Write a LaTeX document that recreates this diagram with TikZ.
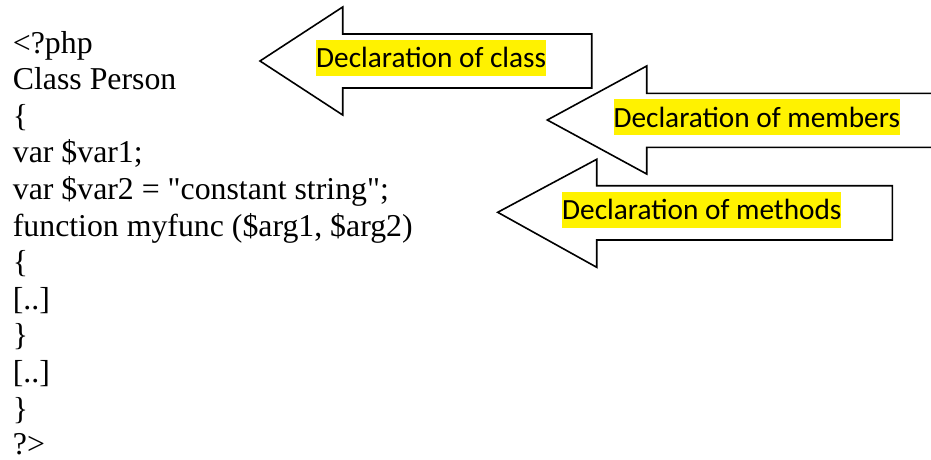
\documentclass[tikz,border=0pt]{standalone}
\usepackage{fontspec}
\setmainfont{Liberation Serif}[Ligatures=TeXOff]
\newfontfamily\calib{Carlito}
\begin{document}
\begin{tikzpicture}[x=1pt,y=-1pt,
 code/.style={anchor=base west,inner sep=0pt,font=\fontsize{31.8}{36}\selectfont},
 hl/.style={anchor=base west,inner sep=0pt,fill=yellow,text height=27.9pt,text depth=7.9pt,font=\calib\fontsize{29.3}{35}\selectfont},
 arr/.style={draw=black,fill=white,line width=1.6pt,line join=miter}]
\useasboundingbox (0,0) rectangle (931,460);
\clip (0,0) rectangle (931,460);
% arrows
\draw[arr] (260,61) -- (342.7,7) -- (342.7,34) -- (591.7,34) -- (591.7,88) -- (342.7,88) -- (342.7,115) -- cycle;
\draw[arr] (547.3,120) -- (646.7,66) -- (646.7,93.3) -- (945,93.3) -- (945,147.3) -- (646.7,147.3) -- (646.7,174) -- cycle;
\draw[arr] (497.7,212.3) -- (596.7,159.3) -- (596.7,185.7) -- (892.3,185.7) -- (892.3,240) -- (596.7,240) -- (596.7,267.3) -- cycle;
% labels
\node[hl] (lclass) at (316,67.9) {Declaration of class};
\node[hl] (lmembers) at (613.3,127.2) {Declaration of members};
\node[hl] (lmethods) at (562,219.6) {Declaration of methods};
% code
\node[code] (c1) at (12.7,53) {<?php};
\node[code] (c2) at (12.7,89.6) {Class Person};
\node[code] (c3) at (12.7,126.2) {\{};
\node[code] (c4) at (12.7,162.8) {var \$var1;};
\node[code] (c5) at (12.7,199.4) {var \$var2 = "constant string";};
\node[code] (c6) at (12.7,236) {function myfunc (\$arg1, \$arg2)};
\node[code] (c7) at (12.7,272.6) {\{};
\node[code] (c8) at (12.7,309.2) {[..]};
\node[code] (c9) at (12.7,345.8) {\}};
\node[code] (c10) at (12.7,382.4) {[..]};
\node[code] (c11) at (12.7,419) {\}};
\node[code] (c12) at (12.7,454.6) {?>};
\end{tikzpicture}
\end{document}
